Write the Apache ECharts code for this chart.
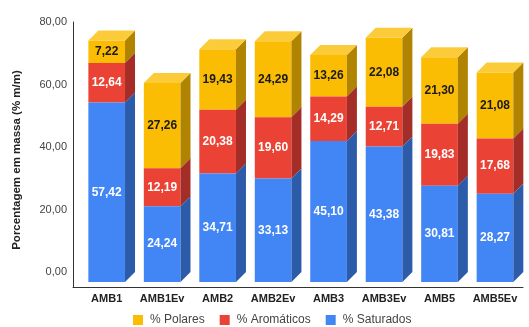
<!DOCTYPE html>
<html>
<head>
<meta charset="utf-8">
<script src="https://cdn.jsdelivr.net/npm/echarts@6/dist/echarts.min.js"></script>
<style>html,body{margin:0;padding:0;background:#fff}#c{width:529px;height:327px}</style>
</head>
<body>
<div id="c"></div>
<script>
const categories = ['AMB1','AMB1Ev','AMB2','AMB2Ev','AMB3','AMB3Ev','AMB5','AMB5Ev'];
const saturados  = [57.42, 24.24, 34.71, 33.13, 45.10, 43.38, 30.81, 28.27];
const aromaticos = [12.64, 12.19, 20.38, 19.60, 14.29, 12.71, 19.83, 17.68];
const polares    = [7.22, 27.26, 19.43, 24.29, 13.26, 22.08, 21.30, 21.08];
const yTicks = [0, 20, 40, 60, 80];
const seriesNames = ['% Polares', '% Aromáticos', '% Saturados'];

const FONT = 'Liberation Sans, Arial, sans-serif';
const DEPTH = 10;
const BAR_W = 0.661;

const styles = {
  '% Saturados':  {front:'#4285F4', side:'#2C5BAA', top:'#6EA0F6', text:'#ffffff'},
  '% Aromáticos': {front:'#EA4335', side:'#A42E27', top:'#EE6C61', text:'#ffffff'},
  '% Polares':    {front:'#FBBC04', side:'#B08400', top:'#FCCB3A', text:'#1a1a1a'}
};

function fmt(v){ return v.toFixed(2).replace('.', ','); }

// stacked data: [index, base, top, value, isTopSegment]
const stackOrder = [['% Saturados', saturados], ['% Aromáticos', aromaticos], ['% Polares', polares]];
const base = categories.map(() => 0);
const built = {};
stackOrder.forEach(([name, arr], k) => {
  built[name] = arr.map((v, i) => {
    const b = base[i];
    base[i] += v;
    return [i, b, b + v, v, k === stackOrder.length - 1 ? 1 : 0];
  });
});

function renderItem(params, api){
  const name = params.seriesName;
  const st = styles[name];
  const i = api.value(0), b = api.value(1), t = api.value(2), v = api.value(3), isTop = api.value(4);
  const p0 = api.coord([i, b]);
  const p1 = api.coord([i, t]);
  const w = api.size([BAR_W, 0])[0];
  const x0 = p0[0] - w / 2, x1 = p0[0] + w / 2;
  const y0 = p0[1] + DEPTH, y1 = p1[1] + DEPTH;
  const children = [
    {type:'rect', shape:{x:x0, y:y1, width:w, height:y0 - y1}, style:{fill:st.front}},
    {type:'polygon', shape:{points:[[x1, y1],[x1 + DEPTH, y1 - DEPTH],[x1 + DEPTH, y0 - DEPTH],[x1, y0]]}, style:{fill:st.side}}
  ];
  if (isTop) {
    children.push({type:'polygon', shape:{points:[[x0, y1],[x0 + DEPTH, y1 - DEPTH],[x1 + DEPTH, y1 - DEPTH],[x1, y1]]}, style:{fill:st.top}});
  }
  children.push({type:'text', x:(x0 + x1) / 2, y:(y0 + y1) / 2, style:{text:fmt(v), fill:st.text, font:'bold 12px ' + FONT, align:'center', verticalAlign:'middle'}});
  return {type:'group', children};
}

const chart = echarts.init(document.getElementById('c'), null, {renderer:'canvas'});
chart.setOption({
  animation:false,
  grid:{left:73, right:6, top:22, bottom:40},
  legend:{
    data:seriesNames, icon:'rect', itemWidth:10, itemHeight:10, itemGap:15,
    left:128, top:309,
    textStyle:{fontSize:12, color:'#444', fontFamily:FONT, padding:[0,0,0,2]}
  },
  xAxis:{
    type:'value', min:-0.6075, max:7.505,
    splitLine:{show:false}, axisTick:{show:false},
    axisLine:{show:true, onZero:false, lineStyle:{color:'#333', width:1}},
    axisLabel:{
      customValues:categories.map((c, i) => i),
      formatter:(v) => categories[Math.round(v)],
      fontFamily:FONT, fontWeight:'bold', fontSize:11, color:'#222', margin:6
    }
  },
  yAxis:{
    type:'value', min:-4.8, max:80,
    splitLine:{show:false}, axisTick:{show:false},
    axisLine:{show:true, onZero:false, lineStyle:{color:'#333', width:1}},
    axisLabel:{customValues:yTicks, formatter:(v) => fmt(v), fontFamily:FONT, fontSize:11, color:'#444', margin:6},
    name:'Porcentagem em massa (% m/m)', nameLocation:'middle', nameGap:50,
    nameTextStyle:{fontFamily:FONT, fontWeight:'bold', fontSize:11.5, color:'#222', padding:[0,11,0,0]}
  },
  series:seriesNames.map(name => ({
    name, type:'custom', renderItem,
    itemStyle:{color:styles[name].front},
    encode:{x:0, y:[1,2]},
    data:built[name]
  }))
});
</script>
</body>
</html>
